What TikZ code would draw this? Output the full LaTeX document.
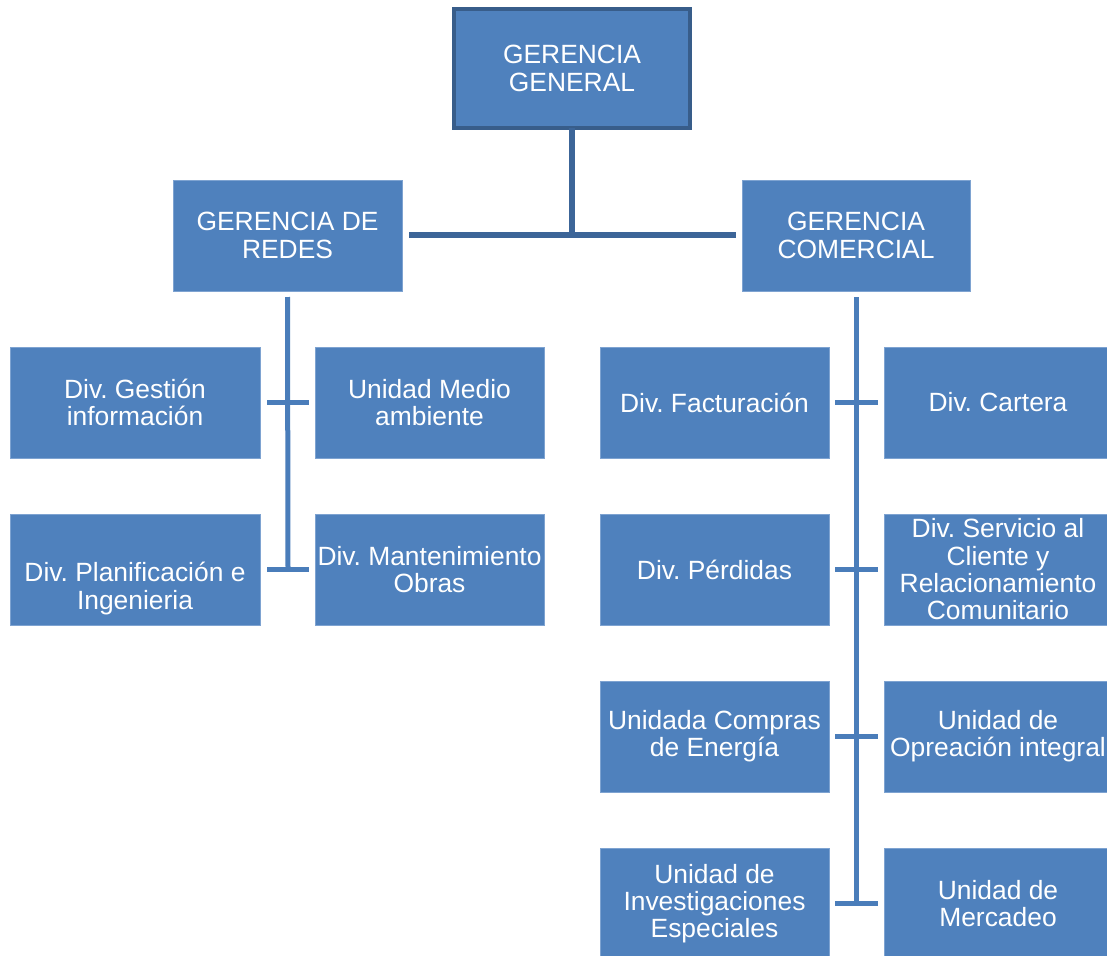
\documentclass[tikz,border=0pt]{standalone}
\usepackage{fontspec}
\setmainfont{Liberation Sans}
\frenchspacing
\definecolor{boxfill}{HTML}{4F81BD}
\definecolor{boxedge}{HTML}{7EA3D1}
\definecolor{topedge}{HTML}{385D8A}
\definecolor{lineA}{HTML}{3C6598}
\definecolor{lineB}{HTML}{4A7DBA}
\tikzset{
  box/.style={draw=boxedge, line width=0.8pt, fill=boxfill, text=white, align=center,
    inner sep=0pt, outer sep=0pt, minimum width=229pt, minimum height=111pt,
    font=\fontsize{26.4}{27.3}\selectfont},
  topbox/.style={box, draw=topedge, line width=4pt, minimum width=236pt, minimum height=119pt},
  wide/.style={minimum width=250pt},
  conA/.style={draw=lineA, line width=5.5pt},
  conB/.style={draw=lineB, line width=5pt},
}
\begin{document}
\begin{tikzpicture}[x=1pt,y=-1pt]
\useasboundingbox (0,0) rectangle (1107,955);
% top
\node[topbox] (gg) at (572,68.5) {GERENCIA\\GENERAL};
\node[box] (gr) at (287.5,235.5) {GERENCIA DE\\REDES};
\node[box,minimum width=228pt] (gc) at (856,235.5) {GERENCIA\\COMERCIAL};
% left branch
\node[box,wide] (l1) at (135,402.5) {Div. Gestión\\información};
\node[box] (l2) at (429.5,402.5) {Unidad Medio\\ambiente};
\node[box,wide,label={[text=white,align=center,yshift=-19pt,font=\fontsize{26.4}{27.3}\selectfont]center:Div. Planificación e\\Ingenieria}] (l3) at (135,569.5) {};
\node[box] (l4) at (429.5,569.5) {Div. Mantenimiento\\Obras};
% right branch
\node[box] (r1) at (714.5,402.5) {Div. Facturación};
\node[box,minimum width=228pt] (r2) at (998,402.5) {Div. Cartera};
\node[box] (r3) at (714.5,569.5) {Div. Pérdidas};
\node[box,minimum width=228pt] (r4) at (998,569.5) {Div. Servicio al\\Cliente y\\Relacionamiento\\Comunitario};
\node[box] (r5) at (714.5,736.5) {Unidada Compras\\de Energía};
\node[box,minimum width=228pt] (r6) at (998,736.5) {Unidad de\\Opreación integral};
\node[box] (r7) at (714.5,903.5) {Unidad de\\Investigaciones\\Especiales};
\node[box,minimum width=228pt] (r8) at (998,903.5) {Unidad de\\Mercadeo};
% connector coordinates
\coordinate (hb) at (572,235);
\coordinate (hl) at (409,235);
\coordinate (hr) at (736,235);
\coordinate (lv) at (288,569);
\coordinate (rv) at (856,903);
% connectors
\draw[conA] (gg.south) -- (hb);
\draw[conA] (hl) -- (hr);
\draw[conB] ([yshift=-6pt]gr.south) -- (lv);
\draw[conB] ([xshift=7pt]l1.east) -- ([xshift=-6pt]l2.west);
\draw[conB] ([xshift=7pt]l3.east) -- ([xshift=-6pt]l4.west);
\draw[conB] ([yshift=-6pt]gc.south) -- (rv);
\draw[conB] ([xshift=6pt]r1.east) -- ([xshift=-6pt]r2.west);
\draw[conB] ([xshift=6pt]r3.east) -- ([xshift=-6pt]r4.west);
\draw[conB] ([xshift=6pt]r5.east) -- ([xshift=-6pt]r6.west);
\draw[conB] ([xshift=6pt]r7.east) -- ([xshift=-6pt]r8.west);
\end{tikzpicture}
\end{document}
